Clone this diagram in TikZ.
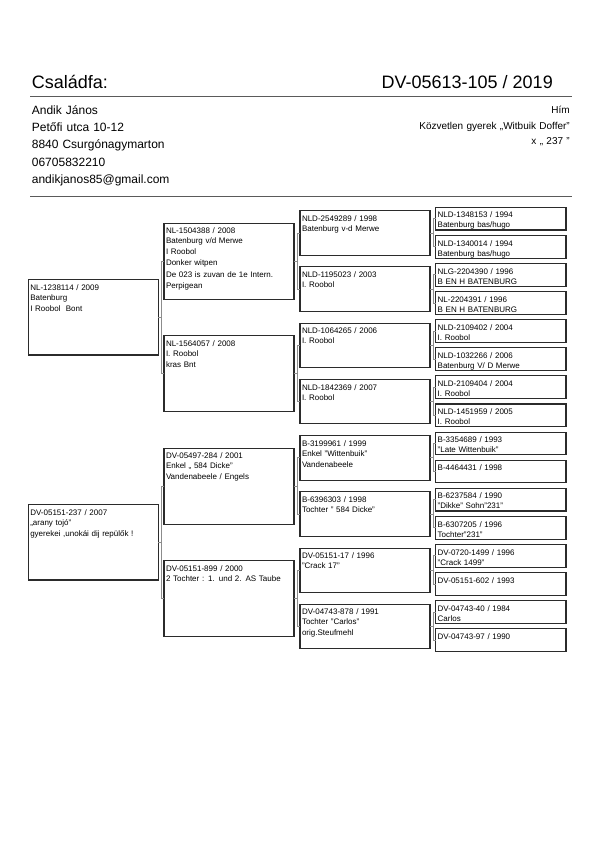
\documentclass[tikz,border=0pt]{standalone}
\usepackage{fontspec}
\setmainfont{Liberation Sans}
\usetikzlibrary{positioning}
\definecolor{Frame}{HTML}{2B2B2B}
\definecolor{Rule}{HTML}{5A5A5A}
\definecolor{Link}{HTML}{8C8C8C}

% child -> bracket over its two parents
\newcommand{\pairlink}[3]{%
  \draw[link] (#1.east) -- ++(3,0);
  \draw[link] (#2.west) -- ++(-2.8,0) |- (#3.west);}

\begin{document}
\begin{tikzpicture}[x=1pt, y=-1pt,
    title/.style={font=\fontsize{18}{21}\selectfont, inner sep=0pt},
    owner/.style={font=\fontsize{12}{17.25}\selectfont, text width=220pt, align=left, inner sep=0pt},
    info/.style={font=\fontsize{10}{15.7}\selectfont, text width=250pt, align=right, inner sep=0pt},
    rule/.style={draw=Rule, line width=1.3pt},
    link/.style={draw=Link, line width=0.8pt},
    gen/.style={rectangle, draw=Frame, line width=1.1pt, anchor=north west, outer sep=0pt,
      inner xsep=2pt, inner ysep=0pt, text width=126pt, align=left, text height=10.6pt,
      font=\fontsize{8}{10}\selectfont},
    gone/.style={gen, text depth=64.9pt},
    gtwo/.style={gen, text depth=65.4pt},
    gthree/.style={gen, text depth=33.9pt},
    gfour/.style={gen, text depth=12.1pt, text width=126.3pt}
  ]
  \useasboundingbox (0,0) rectangle (600,848);

  % Header
  \node[title, anchor=base west] (head) at (31.7,88.3) {Családfa:};
  \node[title, anchor=base east] (ring) at (553,88.3) {DV-05613-105 / 2019};
  \coordinate (topl) at (30,96.7);
  \coordinate (topr) at (572,96.7);
  \draw[rule] (topl) -- (topr);

  \node[owner, anchor=base west] (owner) at (31.7,114.3)
    {Andik János\\Petőfi utca 10-12\\8840 Csurgónagymarton\\06705832210\\andikjanos85@gmail.com};
  \node[info, anchor=base east] (info) at (570,113.5)
    {Hím\\Közvetlen gyerek „Witbuik Doffer"\\x „ 237 "\hspace*{3.5pt}};
  \coordinate (botl) at (30,196.7);
  \coordinate (botr) at (572,196.7);
  \draw[rule] (botl) -- (botr);

  % Parents
  \node[gone] (s) at (28.3,279.5) {NL-1238114 / 2009\\Batenburg\\[1pt]I Roobol\ \ Bont};
  \node[gone] (d) at (28.3,504.5) {DV-05151-237 / 2007\\„arany tojó"\\[1pt]gyerekei ,unokái dij repülők !};

  % Grandparents
  \node[gtwo] (ss) at (164,223.3) {NL-1504388 / 2008\\Batenburg v/d Merwe\\[1pt]I Roobol\\[1pt]Donker witpen\\[1.5pt]De 023 is zuvan de 1e Intern.\\[1.5pt]Perpigean};
  \node[gtwo] (sd) at (164,335.7) {NL-1564057 / 2008\\I. Roobol\\[1pt]kras Bnt};
  \node[gtwo] (ds) at (164,448.3) {DV-05497-284 / 2001\\Enkel „ 584 Dicke"\\[1pt]Vandenabeele / Engels};
  \node[gtwo] (dd) at (164,560.7) {DV-05151-899 / 2000\\2 Tochter : 1. und 2. AS Taube};

  % Great-grandparents
  \node[gthree] (sss) at (300,210.7) {NLD-2549289 / 1998\\Batenburg v-d Merwe};
  \node[gthree] (ssd) at (300,266.9) {NLD-1195023 / 2003\\I. Roobol};
  \node[gthree] (sds) at (300,323.2) {NLD-1064265 / 2006\\I. Roobol};
  \node[gthree] (sdd) at (300,379.4) {NLD-1842369 / 2007\\I. Roobol};
  \node[gthree] (dss) at (300,435.6) {B-3199961 / 1999\\Enkel "Wittenbuik"\\[1pt]Vandenabeele};
  \node[gthree] (dsd) at (300,491.9) {B-6396303 / 1998\\Tochter " 584 Dicke"};
  \node[gthree] (dds) at (300,548.1) {DV-05151-17 / 1996\\"Crack 17"};
  \node[gthree] (ddd) at (300,604.3) {DV-04743-878 / 1991\\Tochter "Carlos"\\[1pt]orig.Steufmehl};

  % Great-great-grandparents
  \node[gfour] (ssss) at (435.7,207.3) {NLD-1348153 / 1994\\Batenburg bas/hugo};
  \node[gfour] (sssd) at (435.7,235.4) {NLD-1340014 / 1994\\Batenburg bas/hugo};
  \node[gfour] (ssds) at (435.7,263.5) {NLG-2204390 / 1996\\B EN H BATENBURG};
  \node[gfour] (ssdd) at (435.7,291.6) {NL-2204391 / 1996\\B EN H BATENBURG};
  \node[gfour] (sdss) at (435.7,319.7) {NLD-2109402 / 2004\\I. Roobol};
  \node[gfour] (sdsd) at (435.7,347.8) {NLD-1032266 / 2006\\Batenburg V/ D Merwe};
  \node[gfour] (sdds) at (435.7,375.9) {NLD-2109404 / 2004\\I. Roobol};
  \node[gfour] (sddd) at (435.7,404.0) {NLD-1451959 / 2005\\I. Roobol};
  \node[gfour] (dsss) at (435.7,432.1) {B-3354689 / 1993\\"Late Wittenbuik"};
  \node[gfour] (dssd) at (435.7,460.2) {B-4464431 / 1998};
  \node[gfour] (dsds) at (435.7,488.3) {B-6237584 / 1990\\"Dikke" Sohn"231"};
  \node[gfour] (dsdd) at (435.7,516.4) {B-6307205 / 1996\\Tochter"231"};
  \node[gfour] (ddss) at (435.7,544.5) {DV-0720-1499 / 1996\\"Crack 1499"};
  \node[gfour] (ddsd) at (435.7,572.6) {DV-05151-602 / 1993};
  \node[gfour] (ddds) at (435.7,600.7) {DV-04743-40 / 1984\\Carlos};
  \node[gfour] (dddd) at (435.7,628.8) {DV-04743-97 / 1990};

  % Links
  \pairlink{s}{ss}{sd}
  \pairlink{d}{ds}{dd}
  \pairlink{ss}{sss}{ssd}
  \pairlink{sd}{sds}{sdd}
  \pairlink{ds}{dss}{dsd}
  \pairlink{dd}{dds}{ddd}
  \pairlink{sss}{ssss}{sssd}
  \pairlink{ssd}{ssds}{ssdd}
  \pairlink{sds}{sdss}{sdsd}
  \pairlink{sdd}{sdds}{sddd}
  \pairlink{dss}{dsss}{dssd}
  \pairlink{dsd}{dsds}{dsdd}
  \pairlink{dds}{ddss}{ddsd}
  \pairlink{ddd}{ddds}{dddd}
\end{tikzpicture}
\end{document}
